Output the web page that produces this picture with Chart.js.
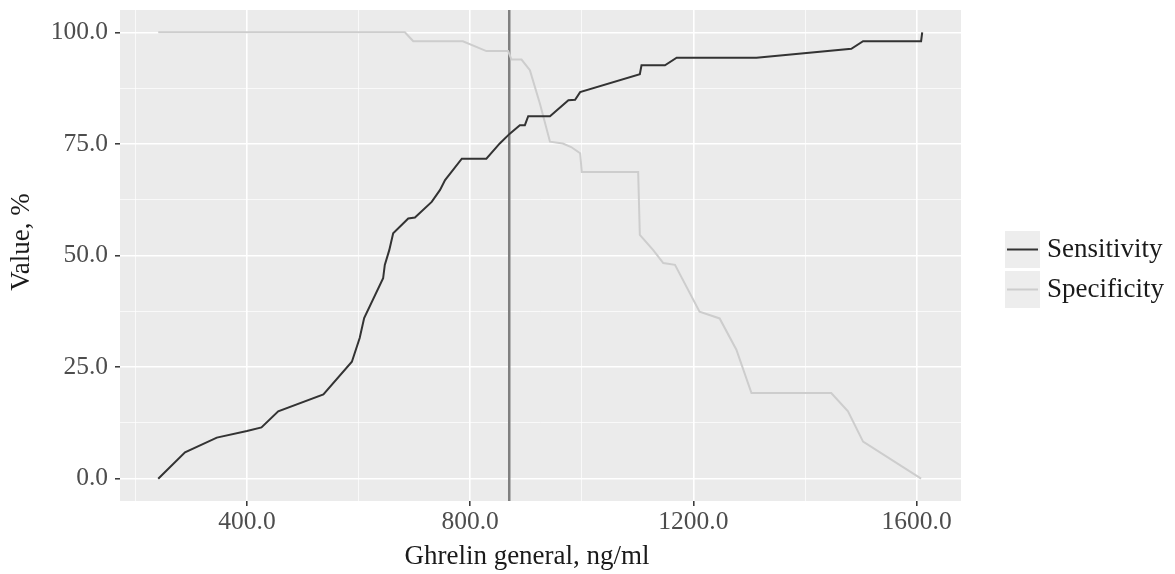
<!DOCTYPE html>
<html>
<head>
<meta charset="utf-8">
<script src="https://cdn.jsdelivr.net/npm/chart.js@4/dist/chart.umd.min.js"></script>
<style>
  html, body { margin: 0; padding: 0; background: #fff; }
  #wrap { width: 1175px; height: 574px; }
</style>
</head>
<body>
<div id="wrap"><canvas id="roc" width="1175" height="574"></canvas></div>
<script>
// threshold values (ng/ml) and curve values (%)
const sensX = [241, 289, 346, 400, 426, 456, 537, 588, 602, 610, 644, 647, 655, 662, 689, 701, 731, 746, 755, 785,
               829, 853, 871, 889, 898, 904, 922, 943, 976, 988, 997, 1104, 1107, 1149, 1170, 1313, 1483, 1504, 1608, 1610];
const sensY = [0, 5.9, 9.2, 10.7, 11.5, 15.1, 18.9, 26.2, 31.5, 36, 44.9, 47.9, 51.2, 55, 58.3, 58.5, 62, 64.7, 66.9, 71.7,
               71.7, 75.1, 77.3, 79.2, 79.2, 81.2, 81.2, 81.2, 84.8, 84.9, 86.6, 90.6, 92.6, 92.6, 94.3, 94.3, 96.3, 98, 98, 100];

const specX = [241, 683, 698, 787, 829, 868, 874, 892, 907, 925, 943, 966, 981, 997, 1000, 1101, 1104, 1128, 1146, 1167,
               1211, 1247, 1277, 1304, 1447, 1477, 1504, 1608];
const specY = [100, 100, 98, 98, 95.8, 95.8, 93.9, 93.9, 91.5, 84, 75.5, 75.1, 74.3, 72.9, 68.7, 68.7, 54.6, 51.2, 48.3, 47.9,
               37.4, 35.9, 28.9, 19.2, 19.2, 15.1, 8.3, 0];

const cutoff = 870;

const seriesNames = ['Sensitivity', 'Specificity'];
const seriesColors = ['#333333', '#cdcdcd'];

const xTicks = [400, 800, 1200, 1600];
const xMinor = [200, 600, 1000, 1400];
const yTicks = [0, 25, 50, 75, 100];
const yMinor = [12.5, 37.5, 62.5, 87.5];

const xTitle = 'Ghrelin general, ng/ml';
const yTitle = 'Value, %';

const xMin = 172.5, xMax = 1679.5;
const yMin = -5, yMax = 105;

const FONT = "'Liberation Serif', 'DejaVu Serif', serif";

function toPoints(xs, ys) {
    return xs.map((x, i) => ({ x: x, y: ys[i] }));
}

function isMajor(list, v) {
    return list.some(t => Math.abs(t - v) < 1e-6);
}

const panelBackground = {
    id: 'panelBackground',
    beforeDraw(chart) {
        const { ctx, chartArea } = chart;
        ctx.save();
        ctx.fillStyle = '#ebebeb';
        ctx.fillRect(chartArea.left, chartArea.top, chartArea.right - chartArea.left, chartArea.bottom - chartArea.top);
        ctx.restore();
    }
};

// axis titles sit a little off the panel centre in the original
const axisTitles = {
    id: 'axisTitles',
    afterDraw(chart) {
        const ctx = chart.ctx;
        ctx.save();
        ctx.fillStyle = '#1a1a1a';
        ctx.font = '27px ' + FONT;
        ctx.textAlign = 'center';
        ctx.textBaseline = 'middle';
        ctx.fillText(xTitle, 527, 557);
        ctx.translate(22, 242);
        ctx.rotate(-Math.PI / 2);
        ctx.fillText(yTitle, 0, 0);
        ctx.restore();
    }
};

// ggplot-style legend with grey key boxes
const keyLegend = {
    id: 'keyLegend',
    afterDraw(chart) {
        const ctx = chart.ctx;
        const keyX = 1005, keyW = 35, keyH = 37;
        const tops = [231, 271];
        ctx.save();
        seriesNames.forEach((name, i) => {
            const top = tops[i];
            ctx.fillStyle = '#ededed';
            ctx.fillRect(keyX, top, keyW, keyH);
            ctx.strokeStyle = seriesColors[i];
            ctx.lineWidth = 2;
            ctx.beginPath();
            ctx.moveTo(keyX + 2, top + keyH / 2);
            ctx.lineTo(keyX + keyW - 2, top + keyH / 2);
            ctx.stroke();
            ctx.fillStyle = '#1a1a1a';
            ctx.font = '27px ' + FONT;
            ctx.textBaseline = 'middle';
            ctx.textAlign = 'left';
            ctx.fillText(name, keyX + keyW + 7, top + keyH / 2);
        });
        ctx.restore();
    }
};

const ctx = document.getElementById('roc').getContext('2d');

new Chart(ctx, {
    type: 'line',
    data: {
        datasets: [
            {
                label: seriesNames[0],
                data: toPoints(sensX, sensY),
                borderColor: seriesColors[0],
                borderWidth: 2,
                pointRadius: 0,
                tension: 0
            },
            {
                label: seriesNames[1],
                data: toPoints(specX, specY),
                borderColor: seriesColors[1],
                borderWidth: 2,
                pointRadius: 0,
                tension: 0
            },
            {
                label: 'cutoff',
                data: [{ x: cutoff, y: yMin }, { x: cutoff, y: yMax }],
                borderColor: '#7f7f7f',
                borderWidth: 2.5,
                pointRadius: 0
            }
        ]
    },
    options: {
        responsive: false,
        animation: false,
        events: [],
        layout: { padding: { top: 10, right: 214, left: 0, bottom: 0 } },
        plugins: {
            legend: { display: false },
            tooltip: { enabled: false }
        },
        scales: {
            x: {
                type: 'linear',
                min: xMin,
                max: xMax,
                afterBuildTicks(scale) {
                    scale.ticks = xMinor.concat(xTicks).sort((a, b) => a - b).map(v => ({ value: v }));
                },
                afterFit(scale) {
                    scale.height = 73;
                    scale.paddingLeft = 0;
                    scale.paddingRight = 0;
                },
                border: { display: false },
                grid: {
                    color: '#ffffff',
                    lineWidth: c => (c.tick && isMajor(xTicks, c.tick.value)) ? 1.6 : 0.7,
                    tickColor: c => (c.tick && isMajor(xTicks, c.tick.value)) ? '#333333' : 'rgba(0,0,0,0)',
                    tickLength: 5,
                    tickWidth: 1.5
                },
                ticks: {
                    autoSkip: false,
                    maxRotation: 0,
                    padding: 1,
                    color: '#4d4d4d',
                    font: { family: FONT, size: 25.5 },
                    callback: v => isMajor(xTicks, v) ? v.toFixed(1) : ''
                },
                title: { display: false }
            },
            y: {
                type: 'linear',
                min: yMin,
                max: yMax,
                afterBuildTicks(scale) {
                    scale.ticks = yMinor.concat(yTicks).sort((a, b) => a - b).map(v => ({ value: v }));
                },
                afterFit(scale) {
                    scale.width = 120;
                    scale.paddingTop = 0;
                    scale.paddingBottom = 0;
                },
                border: { display: false },
                grid: {
                    color: '#ffffff',
                    lineWidth: c => (c.tick && isMajor(yTicks, c.tick.value)) ? 1.6 : 0.7,
                    tickColor: c => (c.tick && isMajor(yTicks, c.tick.value)) ? '#333333' : 'rgba(0,0,0,0)',
                    tickLength: 5,
                    tickWidth: 1.5
                },
                ticks: {
                    autoSkip: false,
                    padding: 7,
                    color: '#4d4d4d',
                    font: { family: FONT, size: 25.5 },
                    callback: v => isMajor(yTicks, v) ? v.toFixed(1) : ''
                },
                title: { display: false }
            }
        }
    },
    plugins: [panelBackground, axisTitles, keyLegend]
});
</script>
</body>
</html>
